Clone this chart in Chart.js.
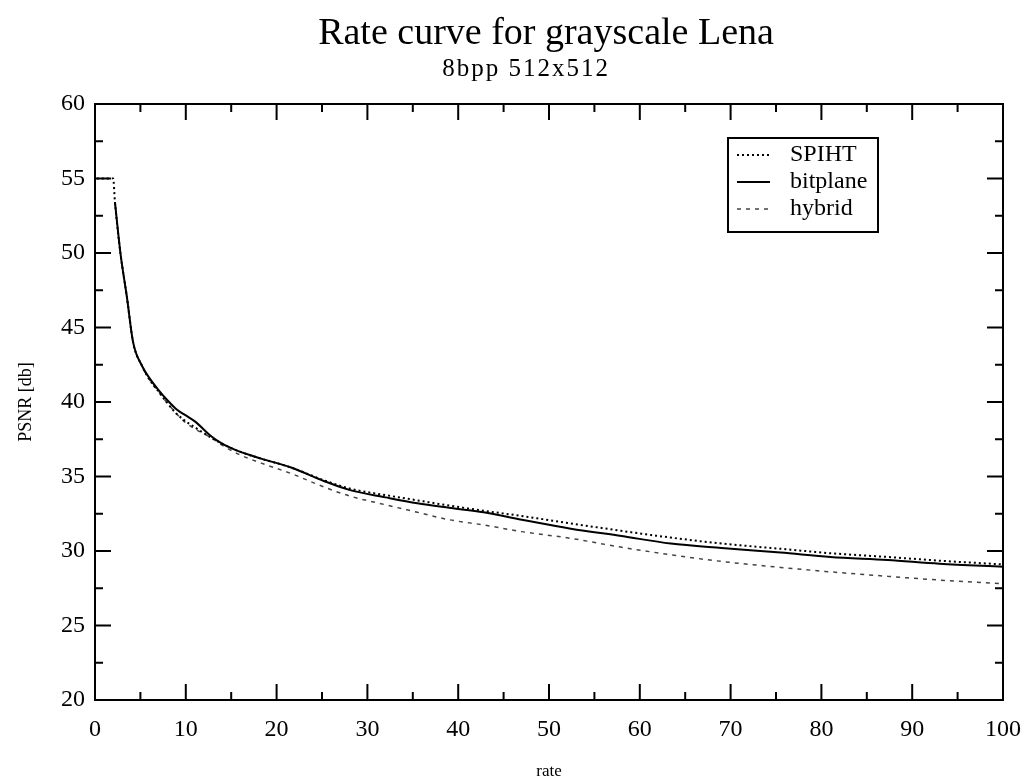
<!DOCTYPE html>
<html lang="en">
<head>
  <meta charset="UTF-8" />
  <title>Rate curve for grayscale Lena</title>
  <script src="https://cdn.jsdelivr.net/npm/chart.js"></script>
  <style>
    html, body {
      margin: 0;
      padding: 0;
      background: #fff;
    }
    #wrap {
      width: 1025px;
      height: 778px;
    }
  </style>
</head>
<body>
  <div id="wrap"><canvas id="rateChart"></canvas></div>

  <script>
    // rate values (x) shared by the three curves, null = no point
    const rates = [0.2, 2, 2.2, 2.8, 3.5, 4.2, 5.2, 6, 7, 8, 9, 10, 11, 12.8, 14, 15.8, 18.3, 21.6, 25.2, 28,
                   32, 35.5, 39, 42.8, 47, 52.4, 58, 63.4, 69, 75.5, 81, 87.3, 93, 100];

    const spiht = [55, 55, 53.4, 50.0, 47.1, 44.0, 42.4, 41.5, 40.7, 39.9, 39.2, 38.7, 38.3, 37.6, 37.2, 36.7, 36.2, 35.6, 34.75, 34.2,
                   33.75, 33.4, 33.05, 32.7, 32.35, 31.85, 31.35, 30.9, 30.5, 30.15, 29.85, 29.6, 29.35, 29.1];

    const bitplane = [null, null, 53.4, 50.0, 47.1, 44.0, 42.4, 41.6, 40.8, 40.1, 39.5, 39.1, 38.7, 37.7, 37.2, 36.7, 36.2, 35.6, 34.7, 34.1,
                      33.6, 33.2, 32.9, 32.6, 32.1, 31.5, 31.0, 30.5, 30.2, 29.9, 29.6, 29.4, 29.15, 28.95];

    const hybrid = [null, null, 53.4, 50.0, 47.1, 44.0, 42.4, 41.5, 40.7, 39.9, 39.2, 38.6, 38.2, 37.6, 37.1, 36.5, 35.9, 35.2, 34.3, 33.7,
                    33.1, 32.6, 32.1, 31.75, 31.3, 30.85, 30.25, 29.75, 29.3, 28.9, 28.6, 28.3, 28.05, 27.8];

    const xTicks = [0, 10, 20, 30, 40, 50, 60, 70, 80, 90, 100];
    const xMinor = [5, 15, 25, 35, 45, 55, 65, 75, 85, 95];
    const yTicks = [20, 25, 30, 35, 40, 45, 50, 55, 60];
    const yMinor = [22.5, 27.5, 32.5, 37.5, 42.5, 47.5, 52.5, 57.5];

    const titleText = "Rate curve for grayscale Lena";
    const subtitleText = "8bpp 512x512";

    const serif = "'Liberation Serif', 'Times New Roman', serif";

    function points(ys) {
      return rates.map((r, i) => ({ x: r, y: ys[i] }));
    }

    // title + subtitle, sitting a bit right of the page centre like the scan
    const headerPlugin = {
      id: "header",
      afterDraw(chart) {
        const { ctx } = chart;
        ctx.save();
        ctx.fillStyle = "#000";
        ctx.textAlign = "center";
        ctx.textBaseline = "middle";
        ctx.font = "38px " + serif;
        ctx.fillText(titleText, 546, 34);
        ctx.font = "25px " + serif;
        ctx.letterSpacing = "2px";
        ctx.fillText(subtitleText, 526, 69);
        ctx.restore();
      }
    };

    // frame on all four sides with inward tick marks
    const framePlugin = {
      id: "frame",
      afterDatasetsDraw(chart) {
        const { ctx, chartArea: a, scales } = chart;
        const xs = scales.x, ys = scales.y;
        ctx.save();
        ctx.strokeStyle = "#000";
        ctx.lineWidth = 2;
        ctx.strokeRect(a.left, a.top, a.right - a.left, a.bottom - a.top);
        ctx.beginPath();
        const tick = (vals, len) => {
          vals.forEach(v => {
            const px = xs.getPixelForValue(v);
            ctx.moveTo(px, a.bottom); ctx.lineTo(px, a.bottom - len);
            ctx.moveTo(px, a.top); ctx.lineTo(px, a.top + len);
          });
        };
        const tickY = (vals, len) => {
          vals.forEach(v => {
            const py = ys.getPixelForValue(v);
            ctx.moveTo(a.left, py); ctx.lineTo(a.left + len, py);
            ctx.moveTo(a.right, py); ctx.lineTo(a.right - len, py);
          });
        };
        tick(xTicks, 16);
        tick(xMinor, 8);
        tickY(yTicks, 16);
        tickY(yMinor, 8);
        ctx.stroke();
        ctx.restore();
      }
    };

    // legend box in the upper right corner of the plot
    const legendBox = {
      id: "legendBox",
      afterDraw(chart) {
        const { ctx, chartArea: a } = chart;
        const left = a.right - 275, top = a.top + 34;
        const w = 150, h = 94;
        ctx.save();
        ctx.fillStyle = "#fff";
        ctx.fillRect(left, top, w, h);
        ctx.strokeStyle = "#000";
        ctx.lineWidth = 2;
        ctx.strokeRect(left, top, w, h);
        ctx.font = "24px " + serif;
        ctx.textBaseline = "middle";
        chart.data.datasets.forEach((ds, i) => {
          const y = top + 17 + i * 27;
          ctx.beginPath();
          ctx.strokeStyle = ds.borderColor;
          ctx.lineWidth = ds.borderWidth;
          ctx.setLineDash(ds.borderDash || []);
          ctx.moveTo(left + 9, y);
          ctx.lineTo(left + 42, y);
          ctx.stroke();
          ctx.setLineDash([]);
          ctx.fillStyle = "#000";
          ctx.fillText(ds.label, left + 62, y);
        });
        ctx.restore();
      }
    };

    new Chart(document.getElementById("rateChart"), {
      type: "line",
      data: {
        datasets: [
          {
            label: "SPIHT",
            data: points(spiht),
            borderColor: "#000",
            borderWidth: 2,
            borderDash: [2, 3]
          },
          {
            label: "bitplane",
            data: points(bitplane),
            borderColor: "#000",
            borderWidth: 2
          },
          {
            label: "hybrid",
            data: points(hybrid),
            borderColor: "#444",
            borderWidth: 1.5,
            borderDash: [4, 5]
          }
        ]
      },
      options: {
        responsive: true,
        maintainAspectRatio: false,
        animation: false,
        layout: { padding: { top: 104, right: 22, bottom: 0, left: 0 } },
        elements: {
          point: { radius: 0 },
          line: { cubicInterpolationMode: "monotone", fill: false }
        },
        plugins: {
          legend: { display: false },
          tooltip: { enabled: false },
          title: { display: false },
          subtitle: { display: false }
        },
        scales: {
          x: {
            type: "linear",
            min: 0,
            max: 100,
            afterFit(scale) {
              scale.height = 78;
              scale.paddingLeft = 0;
              scale.paddingRight = 0;
            },
            afterBuildTicks(scale) { scale.ticks = xTicks.map(v => ({ value: v })); },
            ticks: { color: "#000", font: { family: serif, size: 24 }, padding: 15 },
            grid: { display: false, drawTicks: false },
            border: { display: false },
            title: {
              display: true,
              text: "rate",
              color: "#000",
              font: { family: serif, size: 17, lineHeight: 0.8 },
              padding: { top: 0, bottom: 0 }
            }
          },
          y: {
            type: "linear",
            min: 20,
            max: 60,
            afterFit(scale) {
              scale.width = 95;
              scale.paddingTop = 0;
              scale.paddingBottom = 0;
            },
            afterBuildTicks(scale) { scale.ticks = yTicks.map(v => ({ value: v })); },
            ticks: { color: "#000", font: { family: serif, size: 24 }, padding: 10 },
            grid: { display: false, drawTicks: false },
            border: { display: false },
            title: {
              display: true,
              text: "PSNR [db]",
              color: "#000",
              font: { family: serif, size: 18 },
              padding: { top: 15, bottom: 0 }
            }
          }
        }
      },
      plugins: [framePlugin, legendBox, headerPlugin]
    });
  </script>
</body>
</html>
